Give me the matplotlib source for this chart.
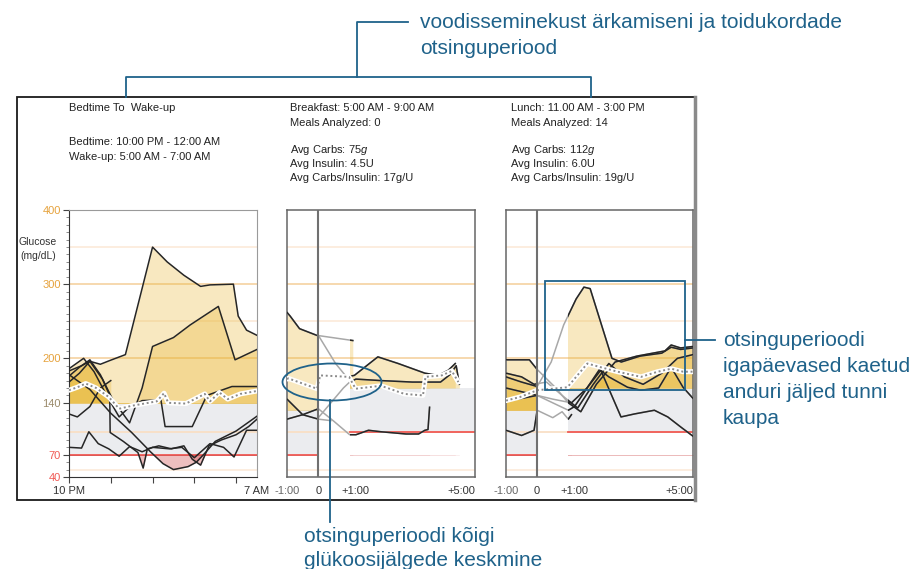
import numpy as np
import matplotlib
matplotlib.use('Agg')
import matplotlib.pyplot as plt
from matplotlib.patches import Rectangle, Ellipse
from matplotlib.lines import Line2D

plt.rcParams['font.family'] = ['Liberation Sans', 'DejaVu Sans']
plt.rcParams['mathtext.fontset'] = 'custom'
plt.rcParams['mathtext.rm'] = 'Liberation Sans'
plt.rcParams['mathtext.it'] = 'Liberation Sans:italic'

# ---- data: bedtime panel, hours after 10 PM / mg/dL ----
night_a_x = [0, 0.6, 1.0, 1.5, 1.95, 2.7, 4.0, 4.7, 5.5, 6.3, 6.75, 7.87, 8.1, 8.5, 9.0]
night_a_y = [183, 190, 196, 192, 197, 205, 350, 330, 312, 297, 299, 300, 257, 238, 231]
night_b_x = [0, 0.5, 1.0, 1.5, 2.1, 2.9, 3.5, 4.0, 5.0, 5.8, 7.15, 7.95, 9.0]
night_b_y = [176, 188, 198, 178, 144, 113, 160, 216, 228, 245, 270, 198, 212]
night_c_x = [0, 0.7, 1.2, 1.8, 2.4, 2.8, 3.5, 4.4, 4.6, 5.9, 6.6, 7.8, 9.0]
night_c_y = [186, 200, 182, 150, 121, 132, 143, 144, 108, 108, 150, 162, 162]
night_d_x = [0, 0.6, 0.95, 1.4, 1.9, 2.4, 2.9, 3.5, 4.0, 4.8, 5.4, 6.0, 6.75, 7.4, 7.9, 8.5, 9.0]
night_d_y = [80, 79, 101, 85, 78, 68, 81, 74, 80, 78, 80, 66, 85, 80, 67, 103, 103]
night_e_x = [0, 1.0, 2.0, 3.0, 3.9, 4.5, 5.0, 5.7, 6.1, 6.5, 7.0, 8.0, 9.0]
night_e_y = [178, 158, 126, 100, 74, 58, 50, 54, 60, 72, 88, 102, 122]
night_f_x = [0, 0.5, 1.0, 1.6, 1.95, 1.97, 2.6, 3.3, 3.55, 3.75, 4.3, 4.9, 5.5, 5.9, 6.3, 6.7, 7.3, 8.0, 8.6, 9.0]
night_f_y = [168, 180, 196, 172, 150, 100, 88, 73, 52, 78, 82, 78, 82, 64, 56, 82, 90, 97, 108, 118]
night_g_x = [0, 0.4, 1.0, 1.5, 2.0]
night_g_y = [125, 121, 135, 160, 170]
night_mean_x = [0, 0.4, 0.8, 1.3, 1.9, 2.4, 3.0, 3.6, 4.2, 4.55, 4.75, 5.6, 6.5, 6.75, 7.2, 7.6, 8.2, 9.0]
night_mean_y = [157, 161, 166, 160, 148, 132, 136, 139, 142, 153, 140, 139, 152, 142, 154, 145, 152, 156]

# ---- breakfast panel, hours from meal ----
bf_a_x = [-1, -0.9, -0.6, -0.05, 1.1]
bf_a_y = [262, 257, 240, 231, 224]
bf_b_x = [0, 0.55, 0.9, 1.15, 1.9, 2.55, 3.4, 3.83, 4.15, 4.37]
bf_b_y = [231, 193, 175, 177, 202, 193, 180, 177, 184, 193]
bf_c_x = [0, 0.4, 0.8, 1.0, 1.2, 2.0, 3.0, 3.9, 4.2, 4.4, 4.5]
bf_c_y = [120, 140, 160, 168, 172, 170, 168, 168, 178, 190, 165]
bf_d_x = [-1, -0.5, 0, 0.5, 1.0, 1.2, 1.6, 2.0, 2.8, 3.2, 3.4, 3.5, 3.55]
bf_d_y = [118, 124, 132, 115, 97, 97, 103, 101, 98, 98, 103, 104, 134]
bf_e_x = [-1, -0.5, 0, 0.4]
bf_e_y = [145, 124, 118, 116]
bf_mean_x = [-1, -0.96, -0.04, 0.06, 0.98, 1.19, 2.0, 2.75, 3.34, 3.42, 3.94, 4.26, 4.47]
bf_mean_y = [172, 173, 159, 177, 175, 159, 163, 152, 150, 175, 177, 183, 168]

# ---- lunch panel, hours from meal ----
ln_p_x = [-1, -0.5, 0, 0.45, 0.85, 1.25, 1.5, 1.7, 2.05, 2.4, 2.7, 3.3, 4.0, 4.3, 4.6, 5.0]
ln_p_y = [175, 168, 162, 195, 245, 280, 296, 294, 247, 200, 195, 203, 207, 215, 212, 214]
ln_q_x = [-1, -0.25, 0, 0.6, 1.0, 1.4, 1.9, 2.5, 3.2, 4.1, 4.3, 4.6, 5.0]
ln_q_y = [198, 198, 185, 160, 140, 128, 165, 195, 203, 210, 218, 214, 216]
ln_r_x = [-1, -0.5, 0, 0.5, 1.1, 1.6, 2.04, 2.69, 3.12, 3.76, 4.19, 4.62, 5.0]
ln_r_y = [160, 155, 150, 145, 140, 160, 184, 121, 125, 130, 121, 107, 95]
ln_s_x = [-1, -0.5, 0, 0.5, 1.0, 1.2, 1.6, 2.0, 2.3, 2.9, 3.33, 3.9, 4.3, 4.68, 5.0]
ln_s_y = [143, 146, 150, 140, 130, 135, 160, 185, 175, 161, 157, 160, 188, 161, 146]
ln_t_x = [-1, -0.5, -0.1, 0, 0.5, 0.8, 1.0, 1.1]
ln_t_y = [103, 96, 103, 130, 120, 128, 118, 124]
ln_u_x = [-1, -0.5, -0.1, 0.3, 0.8, 1.3, 1.8, 2.3, 2.8, 3.4, 4.0, 4.5, 5.0]
ln_u_y = [180, 175, 165, 168, 150, 133, 165, 193, 175, 165, 180, 200, 205]
ln_mean_x = [-1, -0.54, 0, 0.97, 1.61, 2.04, 2.58, 3.33, 3.87, 4.3, 4.68, 5.0]
ln_mean_y = [143, 148, 157, 161, 193, 188, 182, 175, 182, 186, 182, 182]

night_traces = [(night_a_x, night_a_y), (night_b_x, night_b_y), (night_c_x, night_c_y),
                (night_d_x, night_d_y), (night_e_x, night_e_y), (night_f_x, night_f_y),
                (night_g_x, night_g_y)]
bf_traces = [(bf_a_x, bf_a_y), (bf_b_x, bf_b_y), (bf_c_x, bf_c_y), (bf_d_x, bf_d_y), (bf_e_x, bf_e_y)]
ln_traces = [(ln_p_x, ln_p_y), (ln_q_x, ln_q_y), (ln_r_x, ln_r_y), (ln_s_x, ln_s_y),
             (ln_t_x, ln_t_y), (ln_u_x, ln_u_y)]

W, H = 918, 569
BLUE = '#1f628a'
GOLD = '#e8b631'
HYPO = '#d04848'
BAND = '#ebecef'
RED = '#f05a55'
DARK = '#262626'


def fx(x):
    return x / W


def fy(y):
    return 1 - y / H


def box(x0, y0, x1, y1):
    return [x0 / W, 1 - y1 / H, (x1 - x0) / W, (y1 - y0) / H]


def grid(ax, x0, x1):
    for v, c in [(350, '#fcecdc'), (300, '#f6d6a8'), (250, '#fcecdc'), (200, '#f6d6a8'),
                 (100, '#f9dfc6'), (50, '#fcecdc')]:
        ax.plot([x0, x1], [v, v], color=c, lw=1.3, zorder=1)


def window(ax, traces, x0, x1, lo, hi):
    ax.add_patch(Rectangle((x0, lo), x1 - x0, hi - lo, color=BAND, lw=0, zorder=0))
    ax.plot([x0, x1], [lo, lo], color=RED, lw=1.3, zorder=1.5)
    for tx, ty in traces:
        f = ax.fill_between(tx, hi, ty, color=GOLD, alpha=0.3, lw=0, zorder=2)
        f.set_clip_path(Rectangle((x0, hi), x1 - x0, 400 - hi, transform=ax.transData))
        r = ax.fill_between(tx, 70, ty, color=HYPO, alpha=0.35, lw=0, zorder=2)
        r.set_clip_path(Rectangle((x0, 40), x1 - x0, 30, transform=ax.transData))
        l, = ax.plot(tx, ty, color=DARK, lw=1.1, zorder=4)
        l.set_clip_path(Rectangle((x0, 40), x1 - x0, 360, transform=ax.transData))


def mean_line(ax, mx, my):
    ax.plot(mx, my, color='white', lw=3.6, zorder=5, solid_capstyle='round')
    ax.plot(mx, my, color='#8a8a8a', lw=1.4, ls=(0, (1, 1.4)), zorder=6)


def xlabel(ax, x, s, ha='center', color='#333333'):
    ax.text(x, -0.052, s, transform=ax.get_xaxis_transform(), ha=ha, va='center',
            fontsize=8, color=color)


fig = plt.figure(figsize=(9.18, 5.69), dpi=100)

# ---- panel 1: bedtime to wake-up ----
ax1 = fig.add_axes(box(69, 210, 257, 477))
ax1.set_xlim(0, 9)
ax1.set_ylim(40, 400)
grid(ax1, 0, 9)
window(ax1, night_traces, 0, 9, 70, 140)
mean_line(ax1, night_mean_x, night_mean_y)
ax1.set_yticks([40, 70, 140, 200, 300, 400])
ax1.set_yticks(np.arange(40, 401, 10), minor=True)
ax1.tick_params(axis='y', which='major', length=4, width=0.8, color='#444', labelsize=8, pad=2)
ax1.tick_params(axis='y', which='minor', length=2.5, width=0.6, color='#777')
for lab, c in zip(ax1.get_yticklabels(), ['#f05a55', '#f05a55', '#9a8a6a', '#e6a23c', '#e6a23c', '#e6a23c']):
    lab.set_color(c)
ax1.set_xticks([0, 2, 4, 6, 8])
ax1.set_xticklabels([])
ax1.tick_params(axis='x', length=4, width=0.8, color='#444')
for s in ['left', 'bottom']:
    ax1.spines[s].set_color('#333')
for s in ['top', 'right']:
    ax1.spines[s].set_color('#9a9a9a')
xlabel(ax1, 0, '10 PM')
xlabel(ax1, 9, '7 AM')

# ---- panels 2 and 3: meals ----
meal_axes = []
for (x0, x1), traces, (mx, my) in [((287, 475), bf_traces, (bf_mean_x, bf_mean_y)),
                                    ((506, 693), ln_traces, (ln_mean_x, ln_mean_y))]:
    ax = fig.add_axes(box(x0, 210, x1, 477))
    ax.set_xlim(-1, 5)
    ax.set_ylim(40, 400)
    grid(ax, -1, 5)
    for tx, ty in traces:
        ax.plot(tx, ty, color='#a8a8a8', lw=1.1, zorder=3)
    window(ax, traces, -1, 0, 70, 130)
    window(ax, traces, 1, 5, 100, 160)
    mean_line(ax, mx, my)
    ax.axvline(0, color='#707070', lw=1.5, zorder=7)
    ax.set_xticks([])
    ax.set_yticks([])
    for s in ax.spines.values():
        s.set_color('#666')
        s.set_linewidth(1.1)
    xlabel(ax, -1, '-1:00', color='#666666')
    xlabel(ax, 0, '0')
    xlabel(ax, 1.18, '+1:00')
    xlabel(ax, 5, '+5:00', ha='right')
    meal_axes.append(ax)

# ---- header texts ----
fs = 8
fig.text(fx(69), fy(108), 'Bedtime To  Wake-up', fontsize=fs, va='center', color='#222')
fig.text(fx(69), fy(142), 'Bedtime: 10:00 PM - 12:00 AM', fontsize=fs, va='center', color='#222')
fig.text(fx(69), fy(157), 'Wake-up: 5:00 AM - 7:00 AM', fontsize=fs, va='center', color='#222')

for x, lines in [(290, ['Breakfast: 5:00 AM - 9:00 AM', 'Meals Analyzed: 0', r'Avg Carbs: $\it{75g}$',
                        'Avg Insulin: 4.5U', 'Avg Carbs/Insulin: 17g/U']),
                 (511, ['Lunch: 11.00 AM - 3:00 PM', 'Meals Analyzed: 14', r'Avg Carbs: $\it{112g}$',
                        'Avg Insulin: 6.0U', 'Avg Carbs/Insulin: 19g/U'])]:
    for y, s in zip([108, 123, 150, 164, 178], lines):
        fig.text(fx(x), fy(y), s, fontsize=fs, va='center', color='#222')

fig.text(fx(38), fy(242), 'Glucose', fontsize=7.5, ha='center', va='center', color='#333')
fig.text(fx(38), fy(256), '(mg/dL)', fontsize=7.5, ha='center', va='center', color='#333')

# ---- outer frame ----
fig.add_artist(Rectangle((fx(17), fy(500)), 678 / W, 403 / H, transform=fig.transFigure,
                         fill=False, ec='#1a1a1a', lw=1.3))
fig.add_artist(Line2D([fx(695), fx(695)], [fy(97), fy(500)], color='#8a8a8a', lw=2.5))

# ---- blue annotations ----
fig.add_artist(Line2D([fx(126), fx(126), fx(591), fx(591)], [fy(97), fy(77), fy(77), fy(97)],
                      color=BLUE, lw=1.3))
fig.add_artist(Line2D([fx(357), fx(357), fx(408)], [fy(77), fy(22), fy(22)], color=BLUE, lw=1.3))
fig.text(fx(420), fy(22), 'voodisseminekust ärkamiseni ja toidukordade', fontsize=15, va='center', color=BLUE)
fig.text(fx(420), fy(48), 'otsinguperiood', fontsize=15, va='center', color=BLUE)

fig.add_artist(Rectangle((fx(545), fy(390)), 140 / W, 109 / H, transform=fig.transFigure,
                         fill=False, ec=BLUE, lw=1.3))
fig.add_artist(Line2D([fx(685), fx(715)], [fy(340), fy(340)], color=BLUE, lw=1.3))
for y, s in zip([341, 367, 393, 419], ['otsinguperioodi', 'igapäevased kaetud', 'anduri jäljed tunni', 'kaupa']):
    fig.text(fx(723), fy(y), s, fontsize=15, va='center', color=BLUE)

fig.add_artist(Ellipse((fx(332), fy(382)), 99 / W, 37 / H, transform=fig.transFigure,
                       fill=False, ec=BLUE, lw=1.3))
fig.add_artist(Line2D([fx(330), fx(330)], [fy(400), fy(522)], color=BLUE, lw=1.3))
fig.text(fx(304), fy(536), 'otsinguperioodi kõigi', fontsize=15, va='center', color=BLUE)
fig.text(fx(304), fy(560), 'glükoosijälgede keskmine', fontsize=15, va='center', color=BLUE)

fig.savefig('out.png', dpi=100)
